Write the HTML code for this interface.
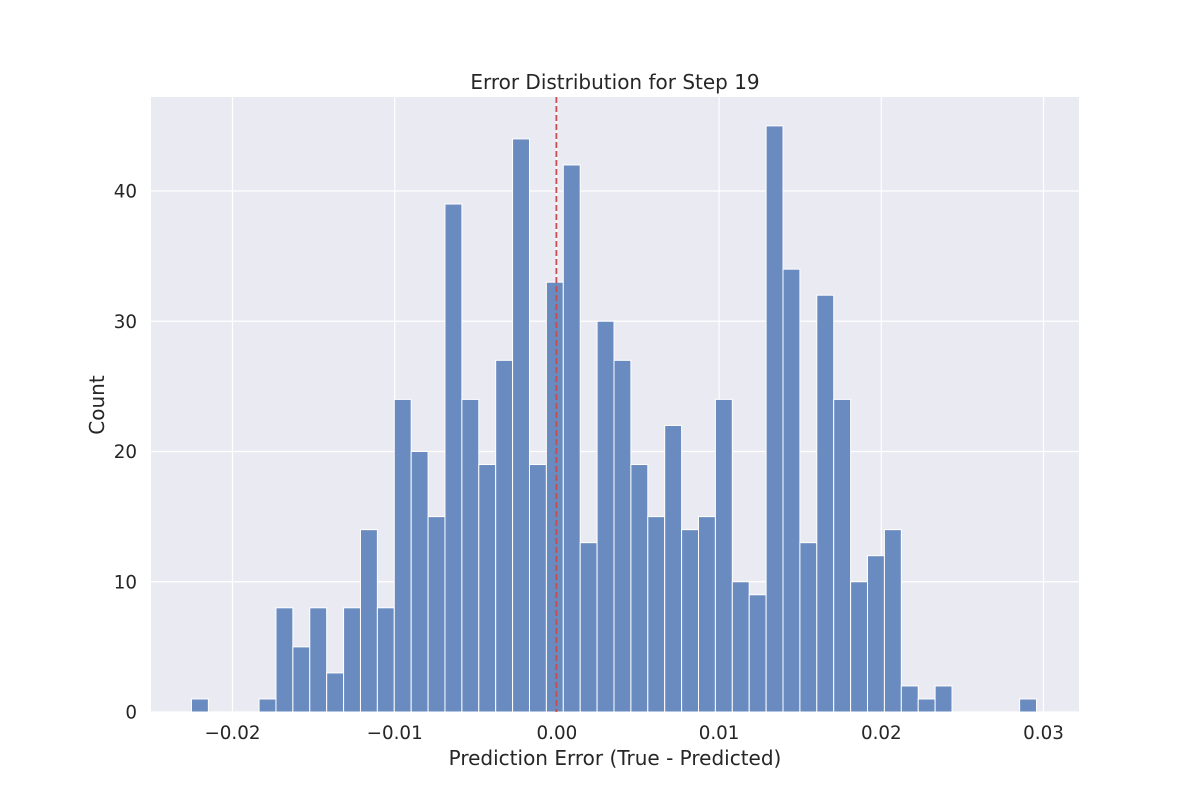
<!DOCTYPE html>
<html><head><meta charset="utf-8"><style>
body{margin:0;background:#fff;}
svg text{font-family:"DejaVu Sans","Liberation Sans",sans-serif;fill:#262626;}
</style></head><body>
<svg id="chart" width="1200" height="800"></svg>
<script>
const binStart = -0.02253;
const binWidth = 0.0010420;
const counts = [1,0,0,0,1,8,5,8,3,8,14,8,24,20,15,39,24,19,27,44,19,33,42,13,30,27,19,15,22,14,15,24,10,9,45,34,13,32,24,10,12,14,2,1,2,0,0,0,0,1];
const xTicks = [-0.02,-0.01,0.00,0.01,0.02,0.03];
const xTickLabels = ["\u22120.02","\u22120.01","0.00","0.01","0.02","0.03"];
const yTicks = [0,10,20,30,40];
const refLine = [0];

const L=151,R=1079,T=97,B=712;
const xs = v => 232.5 + (v + 0.02) * 16220;
const ys = v => 712 - v * 13.025;
const NS="http://www.w3.org/2000/svg";
const svg=document.getElementById('chart');
function mk(tag,attrs,parent){const e=document.createElementNS(NS,tag);for(const k in attrs)e.setAttribute(k,attrs[k]);(parent||svg).appendChild(e);return e;}

const bg=mk('rect',{x:L,y:T,width:R-L,height:B-T,fill:'#eaeaf2'});



xTicks.forEach((t,i)=>{
  const g=mk('line',{x1:xs(t),x2:xs(t),y1:T,y2:B,stroke:'#fff','stroke-width':1.2});
  
  
  const tx=mk('text',{x:xs(t),y:739,'text-anchor':'middle','font-size':18.3});
  tx.textContent=xTickLabels[i];
  
  
});
yTicks.forEach(t=>{
  const g=mk('line',{x1:L,x2:R,y1:ys(t),y2:ys(t),stroke:'#fff','stroke-width':1.2});
  
  
  const tx=mk('text',{x:137,y:ys(t)+6.5,'text-anchor':'end','font-size':18.3});
  tx.textContent=String(t);
  
  
});

counts.forEach((c,i)=>{
  if(c<=0)return;
  const x0=xs(binStart+i*binWidth), x1=xs(binStart+(i+1)*binWidth);
  const r=mk('rect',{x:x0,y:ys(c),width:x1-x0,height:ys(0)-ys(c),fill:'#6a8bc0',stroke:'#fff','stroke-width':1});
  
  
});

refLine.forEach(v=>{
  const l=mk('line',{x1:xs(v)-0.5,x2:xs(v)-0.5,y1:T,y2:B,stroke:'#c44e52','stroke-width':1.8,'stroke-dasharray':'6,3'});
  
  
});

const title=mk('text',{x:615,y:89,'text-anchor':'middle','font-size':20});
title.textContent='Error Distribution for Step 19';


const xl=mk('text',{x:615,y:765,'text-anchor':'middle','font-size':20});
xl.textContent='Prediction Error (True - Predicted)';


const yl=mk('text',{x:104,y:405,'text-anchor':'middle','font-size':20,transform:'rotate(-90 104 405)'});
yl.textContent='Count';


</script>
</body></html>
